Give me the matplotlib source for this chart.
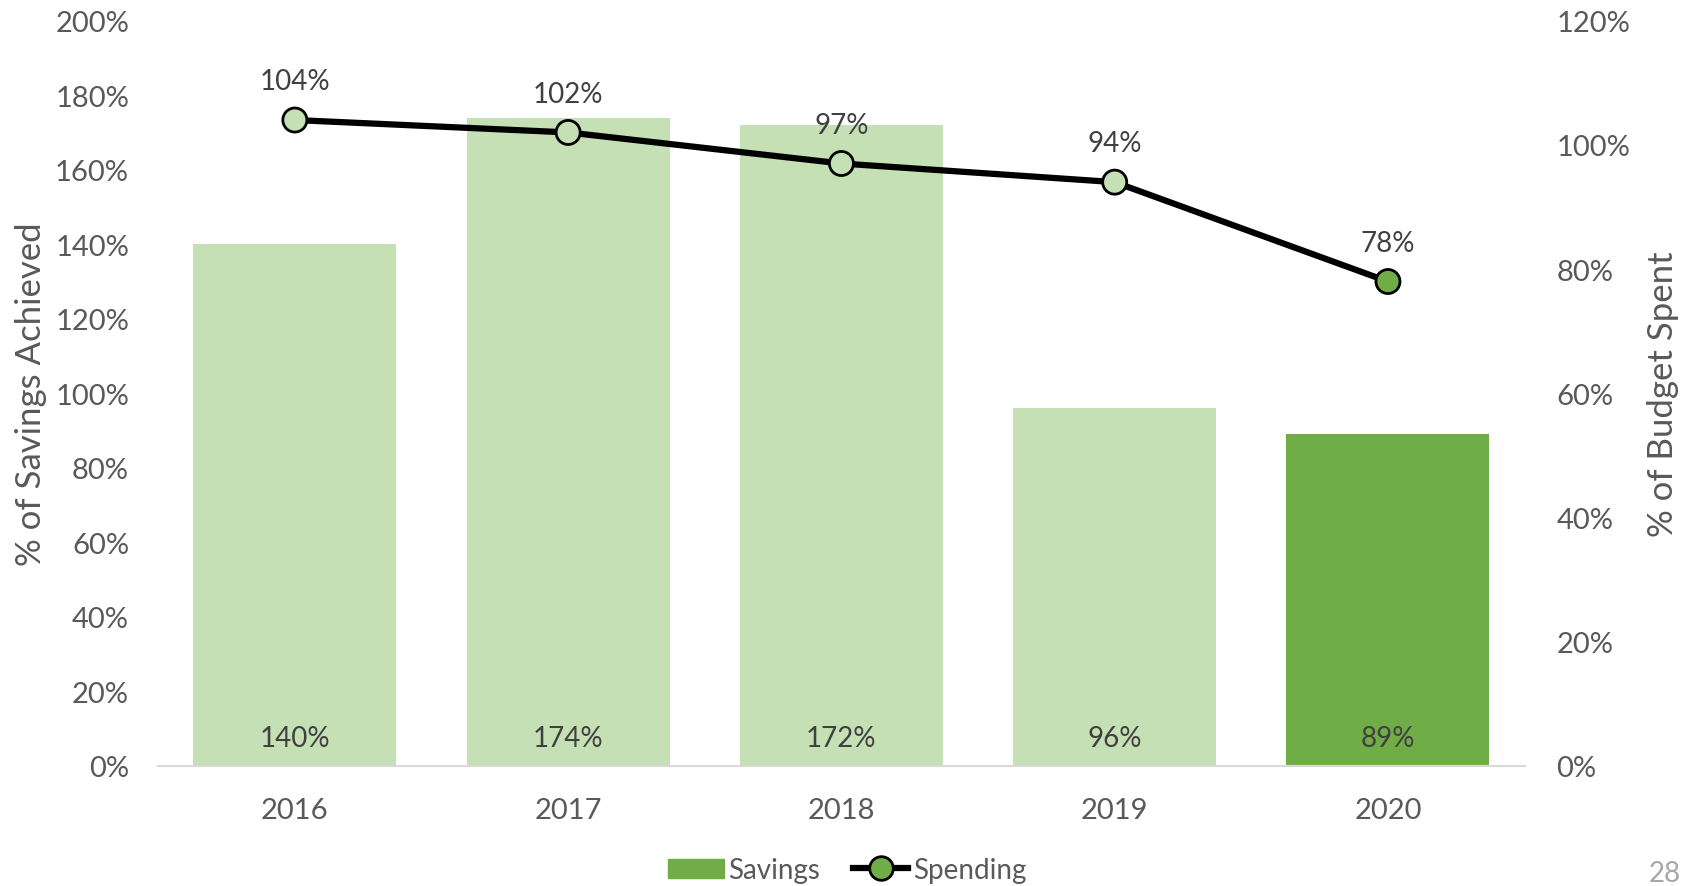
import matplotlib.pyplot as plt
from matplotlib.lines import Line2D
from matplotlib.patches import Patch

plt.rcParams['font.family'] = ['Lato', 'DejaVu Sans']

# Données
annees = ['2016', '2017', '2018', '2019', '2020']
economies = [140, 174, 172, 96, 89]
depenses = [104, 102, 97, 94, 78]

vert_clair = '#C5E0B4'
vert_fonce = '#70AD47'
gris = '#595959'
couleurs = [vert_clair] * 4 + [vert_fonce]

fig = plt.figure(figsize=(16.94, 8.87), dpi=100)
ax = fig.add_axes([0.0934, 0.1353, 0.8066, 0.8403])
ax2 = ax.twinx()

x = range(len(annees))
ax.bar(x, economies, width=0.743, color=couleurs, zorder=1)
ax.set_xlim(-0.5, len(annees) - 0.5)
ax.set_ylim(0, 200)
ax.set_yticks(range(0, 201, 20))
ax.set_yticklabels([f"{v}%" for v in range(0, 201, 20)])
ax.set_xticks(list(x))
ax.set_xticklabels(annees)
ax.set_ylabel('% of Savings Achieved', fontsize=25, color=gris, labelpad=6)

for i, v in enumerate(economies):
    ax.text(i, 7.5, f"{v}%", ha='center', va='center', fontsize=20, color='#404040')

# Ligne des dépenses
ax2.plot(x, depenses, color='black', lw=4.5, zorder=3)
ax2.scatter(x, depenses, s=300, c=couleurs, edgecolors='black', linewidths=2, zorder=4)
for i, v in enumerate(depenses):
    ax2.annotate(f"{v}%", (i, v), xytext=(0, 28), textcoords='offset points',
                 ha='center', va='center', fontsize=20, color='#404040')
ax2.set_ylim(0, 120)
ax2.set_yticks(range(0, 121, 20))
ax2.set_yticklabels([f"{v}%" for v in range(0, 121, 20)])
ax2.set_ylabel('% of Budget Spent', fontsize=25, color=gris, labelpad=12)

for a in (ax, ax2):
    for s in a.spines.values():
        s.set_visible(False)
    a.tick_params(length=0, labelsize=21, labelcolor=gris)
ax.tick_params(axis='y', pad=21)
ax2.tick_params(axis='y', pad=23)
ax.spines['bottom'].set_visible(True)
ax.spines['bottom'].set_color('#D9D9D9')
ax.spines['bottom'].set_linewidth(1.5)
ax.tick_params(axis='x', pad=22)
ax.set_zorder(ax2.get_zorder() - 1)
ax.patch.set_visible(False)

# Légende
poignees = [Patch(color=vert_fonce, label='Savings'),
            Line2D([0], [0], color='black', lw=4.5, marker='o', markersize=17,
                   markerfacecolor=vert_fonce, markeredgecolor='black',
                   markeredgewidth=2, label='Spending')]
fig.legend(handles=poignees, loc='center', bbox_to_anchor=(0.5, 0.018), ncol=2,
           frameon=False, fontsize=20, labelcolor=gris, handlelength=2.0,
           handletextpad=0.15, columnspacing=1.2)

fig.text(0.983, 0.0, '28', fontsize=20, color='#A6A6A6', ha='center', va='bottom')

plt.savefig('out.png', dpi=100)
